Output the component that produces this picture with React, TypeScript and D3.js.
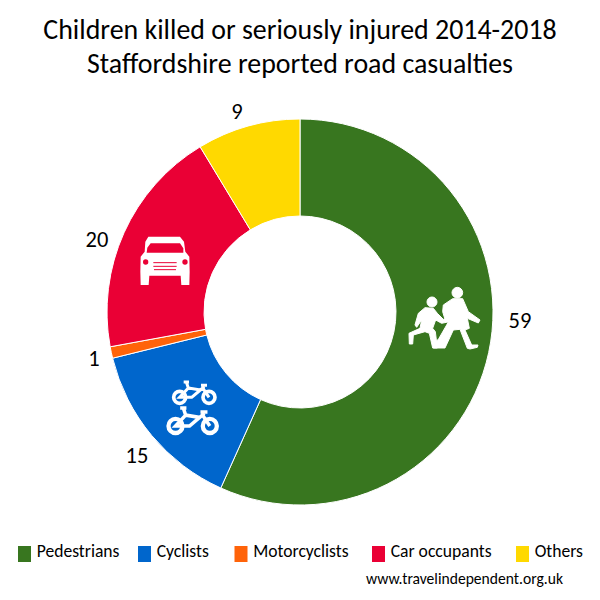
import React from "react";
import * as d3 from "d3";

const categories = ["Pedestrians", "Cyclists", "Motorcyclists", "Car occupants", "Others"];
const values = [59, 15, 1, 20, 9];
const colors = ["#38761f", "#0066cc", "#ff6309", "#ea0035", "#ffd900"];
const labelPositions = [[520, 320], [137, 455], [94, 358], [97, 239], [237, 111]];
const legendX = [18, 138, 234.5, 372, 516];
const font = "Carlito, Lato, 'Open Sans', sans-serif";

const Pedestrians = () => (
  <g transform="translate(390,270) scale(0.3333)" fill="#fff" stroke="#fff" strokeWidth={3} strokeLinejoin="round">
    <circle cx={202} cy={68} r={16} />
    <circle cx={126} cy={96} r={15} />
    <path d="M160 105L188 86L218 86L235 125L270 150L265 159L232 145L238 175L225 180L245 225L264 225L262 232L240 237L232 235L210 178L190 180L165 234L130 234L130 225L147 205L170 165L178 150L165 148L158 125Z" />
    <path d="M105 113L130 115L142 130L160 148L178 145L178 155L155 160L137 150L128 175L136 185L142 234L128 234L118 190L105 185L70 195L68 222L58 222L57 190L90 175L95 150L80 172L75 165L85 130Z" />
  </g>
);

const Car = () => (
  <g transform="translate(130,225) scale(0.3333)">
    <path fill="#fff" fillRule="evenodd" d="M55 35L150 35L162 50L166 80L178 95L179 140L178 180L154 180L152 152L58 152L56 180L32 180L31 140L32 95L44 80L46 50ZM62 55L52 68L50 83L160 83L160 70L150 55Z" />
    <circle cx={47} cy={111} r={8} fill="#ea0035" />
    <circle cx={165} cy={111} r={8} fill="#ea0035" />
    <path stroke="#ea0035" strokeWidth={3} d="M70 113H140M70 124H140M72 134H138" />
  </g>
);

const Bike = ({ x, y, s }: { x: number; y: number; s: number }) => (
  <g transform={`translate(${x},${y}) scale(${s})`} fill="none" stroke="#fff" strokeWidth={11}>
    <circle cx={-44} cy={0} r={18} />
    <circle cx={44} cy={0} r={18} />
    <path strokeWidth={9} d="M-32 -46H-16M-24 -46L-18 -28L18 -22L-8 0L-44 0L-18 -28M-8 0L18 -22L30 -32M20 -36H38M24 -30L44 0" />
  </g>
);

const Bikes = () => (
  <g transform="translate(155,370) scale(0.3333)">
    <Bike x={118} y={82} s={1} />
    <Bike x={113} y={168} s={1.17} />
  </g>
);

export default function App() {
  const pie = d3.pie<number>().sort(null)(values);
  const arc = d3.arc<d3.PieArcDatum<number>>().innerRadius(96).outerRadius(193);
  return (
    <svg width={600} height={600} style={{ position: "absolute", left: 0, top: 0, background: "#fff" }} fontFamily={font}>
      <text x={300} y={39} textAnchor="middle" fontSize={27.9} fill="#000">Children killed or seriously injured 2014-2018</text>
      <text x={300} y={73} textAnchor="middle" fontSize={27.9} fill="#000">Staffordshire reported road casualties</text>
      <g transform="translate(300,312)">
        {pie.map((d, i) => (
          <path key={categories[i]} d={arc(d) ?? ""} fill={colors[i]} stroke="#fff" strokeWidth={1} />
        ))}
      </g>
      <Pedestrians />
      <Car />
      <Bikes />
      {values.map((v, i) => (
        <text key={i} x={labelPositions[i][0]} y={labelPositions[i][1]} dy="0.35em" textAnchor="middle" fontSize={22.5} fill="#000">{v}</text>
      ))}
      {categories.map((c, i) => (
        <g key={c}>
          <rect x={legendX[i]} y={546} width={13} height={16} fill={colors[i]} />
          <text x={legendX[i] + 18.7} y={557} fontSize={17.6} fill="#000">{c}</text>
        </g>
      ))}
      <text x={366} y={584} fontSize={15.6} fill="#000">www.travelindependent.org.uk</text>
    </svg>
  );
}
